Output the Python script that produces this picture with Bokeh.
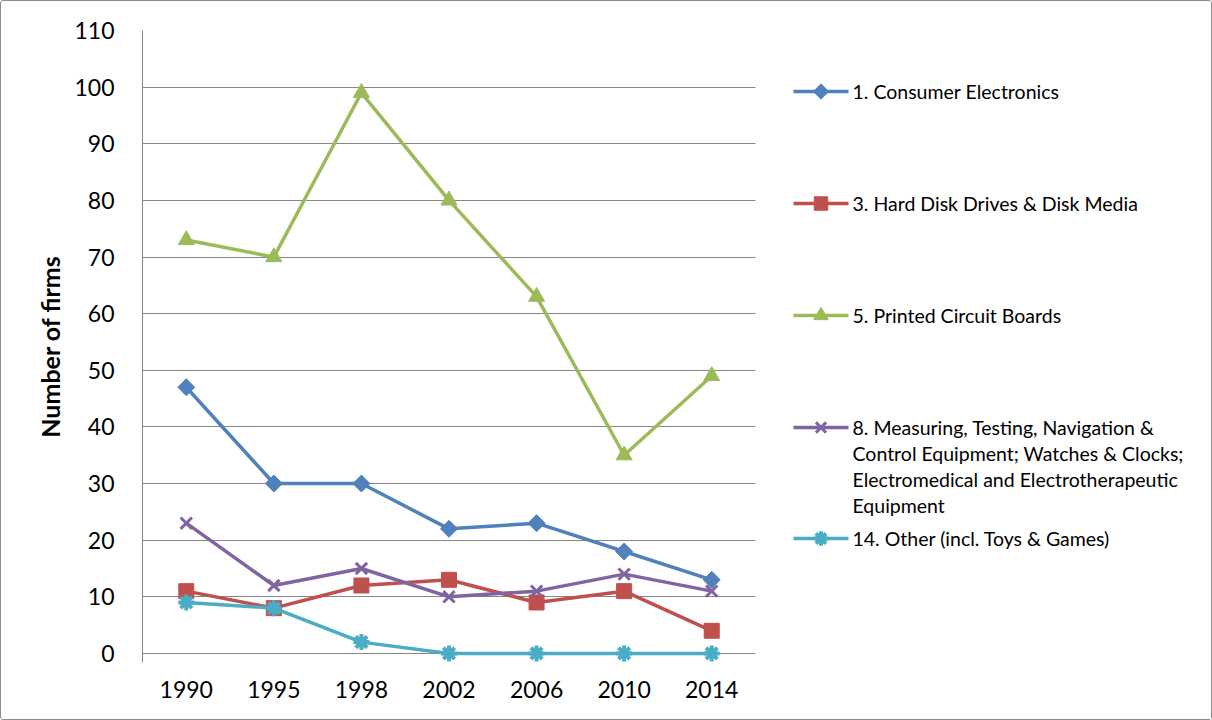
import math
from bokeh.plotting import figure
from bokeh.layouts import row
from bokeh.models import Range1d, FixedTicker
from bokeh.core.properties import value
from bokeh.embed import file_html
from bokeh.resources import INLINE

# ---- data -------------------------------------------------------------
years = ["1990", "1995", "1998", "2002", "2006", "2010", "2014"]
consumer_electronics = [47, 30, 30, 22, 23, 18, 13]
hard_disk_drives = [11, 8, 12, 13, 9, 11, 4]
printed_circuit_boards = [73, 70, 99, 80, 63, 35, 49]
measuring_testing = [23, 12, 15, 10, 11, 14, 11]
other_toys_games = [9, 8, 2, 0, 0, 0, 0]

y_ticks = list(range(0, 111, 10))

series_labels = [
    ["1. Consumer Electronics"],
    ["3. Hard Disk Drives & Disk Media"],
    ["5. Printed Circuit Boards"],
    ["8. Measuring, Testing, Navigation &",
     "Control Equipment; Watches & Clocks;",
     "Electromedical and Electrotherapeutic",
     "Equipment"],
    ["14. Other (incl. Toys & Games)"],
]
series_values = [consumer_electronics, hard_disk_drives, printed_circuit_boards,
                 measuring_testing, other_toys_games]

# ---- styling ------------------------------------------------------------
colors = ["#4F81BD", "#C0504D", "#9BBB59", "#8064A2", "#4BACC6"]
markers = [
    dict(marker="square", size=12, angle=math.pi / 4),
    dict(marker="square", size=15),
    dict(marker="triangle", size=16),
    dict(marker="x", size=16, line_width=3),
    dict(marker="asterisk", size=16, line_width=4),
]

FONT = "Lato"
GRID = "#868686"
LINE_W = 3.5

# ---- main chart ---------------------------------------------------------
H = 718
MAIN_W = 755
FRAME_LEFT, FRAME_TOP, FRAME_BOTTOM = 141, 29, 661
X0, X1 = -0.5, len(years) - 0.5
Y0, Y1 = -1.6, 110

x = list(range(len(years)))

p = figure(width=MAIN_W, height=H, output_backend="svg", toolbar_location=None,
           x_range=Range1d(X0, X1), y_range=Range1d(Y0, Y1),
           min_border_left=FRAME_LEFT, min_border_right=1,
           min_border_top=FRAME_TOP, min_border_bottom=H - FRAME_BOTTOM)
p.outline_line_color = None
p.border_fill_color = "white"

p.xaxis.ticker = FixedTicker(ticks=x)
p.xaxis.major_label_overrides = {i: yr for i, yr in enumerate(years)}
p.yaxis.ticker = FixedTicker(ticks=y_ticks)
for ax in (p.xaxis[0], p.yaxis[0]):
    ax.major_tick_line_color = None
    ax.minor_tick_line_color = None
    ax.major_label_text_font = FONT
    ax.major_label_text_font_size = "23px"
    ax.major_label_text_color = "#000000"
p.xaxis.axis_line_color = None
p.xaxis.major_label_standoff = 12
p.yaxis.axis_line_color = GRID
p.yaxis.major_label_standoff = 22
p.yaxis.axis_label = "Number of firms"
p.yaxis.axis_label_text_font = FONT
p.yaxis.axis_label_text_font_style = "bold"
p.yaxis.axis_label_text_font_size = "25px"
p.yaxis.axis_label_text_color = "#000000"
p.yaxis.axis_label_standoff = 6

p.xgrid.grid_line_color = None
p.ygrid.grid_line_color = GRID
p.ygrid.grid_line_width = 1

for vals, color, mk in zip(series_values, colors, markers):
    p.line(x, vals, line_color=color, line_width=LINE_W)
    p.scatter(x, vals, color=color, **mk)

# ---- legend panel (coordinates are canvas pixels, y downwards) ----------
LEG_W = 1210 - MAIN_W
leg = figure(width=LEG_W, height=H, output_backend="svg", toolbar_location=None,
             x_range=Range1d(MAIN_W, MAIN_W + LEG_W),
             y_range=Range1d(FRAME_BOTTOM, FRAME_TOP),
             min_border_left=0, min_border_right=0,
             min_border_top=FRAME_TOP, min_border_bottom=H - FRAME_BOTTOM)
leg.axis.visible = False
leg.grid.visible = False
leg.outline_line_color = None
leg.border_fill_color = "white"

GLYPH_X0, GLYPH_X1 = 792, 847
TEXT_X = 851
CENTERS = [90, 202, 314, 426, 537]
LINE_STEP = 26

for lines, color, mk, cy in zip(series_labels, colors, markers, CENTERS):
    leg.segment(x0=[GLYPH_X0], y0=[cy], x1=[GLYPH_X1], y1=[cy],
                line_color=color, line_width=LINE_W)
    kw = dict(mk)
    kw["size"] = kw["size"] * 0.9
    leg.scatter([(GLYPH_X0 + GLYPH_X1) / 2], [cy], color=color, **kw)
    leg.text(x=[TEXT_X] * len(lines),
             y=[cy + k * LINE_STEP for k in range(len(lines))],
             text=lines, text_font=value(FONT), text_font_size="19.5px",
             text_color="#000000", text_baseline="middle", text_align="left")

layout = row(p, leg, spacing=0)
layout.styles = {"border": "1px solid #8c8c8c", "border-radius": "3px",
                 "background": "white"}

open("out.html", "w").write(file_html(layout, INLINE))
